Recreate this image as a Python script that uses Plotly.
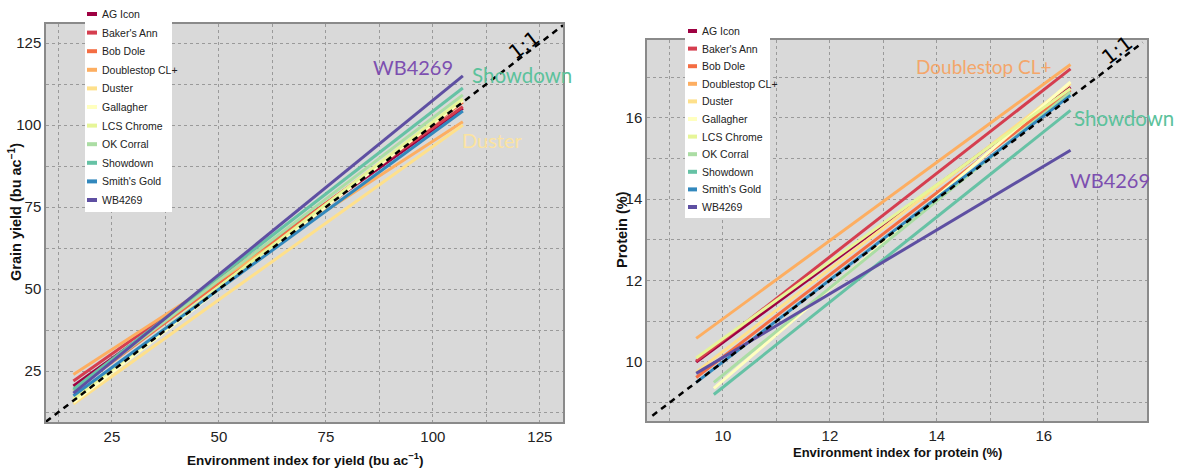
import plotly.graph_objects as go

W, H = 1178, 474

varieties = ["AG Icon", "Baker's Ann", "Bob Dole", "Doublestop CL+", "Duster", "Gallagher",
             "LCS Chrome", "OK Corral", "Showdown", "Smith's Gold", "WB4269"]
colors = ["#9e0142", "#d53e4f", "#f46d43", "#fdae61", "#fee08b", "#ffffbf",
          "#e6f598", "#abdda4", "#66c2a5", "#3288bd", "#5e4fa2"]

# Yield panel: regression lines (environment index -> grain yield)
yield_env_start = [16, 16, 16, 16, 16, 16, 16, 16, 16, 16, 16]
yield_env_end = [107, 107, 107, 107, 107, 107, 107, 107, 107, 107, 107]
yield_start = [20.5, 22.0, 19.0, 24.0, 15.0, 15.5, 16.5, 19.0, 19.5, 17.5, 18.3]
yield_end = [105.1, 105.6, 107.0, 101.0, 100.0, 107.5, 108.0, 109.2, 111.3, 104.3, 115.0]

# Protein panel: regression lines (environment index -> protein)
prot_env_start = [9.5, 9.5, 9.5, 9.5, 9.5, 9.83, 9.5, 9.83, 9.83, 9.5, 9.5]
prot_env_end = [16.5, 16.5, 16.5, 16.5, 16.5, 16.5, 16.5, 16.5, 16.5, 16.5, 16.5]
prot_start = [10.0, 10.02, 9.62, 10.58, 9.75, 9.35, 10.1, 9.5, 9.2, 9.5, 9.72]
prot_end = [16.75, 17.2, 16.68, 17.31, 16.84, 16.88, 16.72, 16.63, 16.18, 16.55, 15.2]

yield_range_x = [9.6, 130.4]
yield_range_y = [9.5, 130.8]
prot_range_x = [8.58, 17.93]
prot_range_y = [8.55, 17.91]

yield_ticks = [25, 50, 75, 100, 125]
prot_ticks = [10, 12, 14, 16]

SANS = "Liberation Sans, Arial, sans-serif"
LABEL_FONT = "Lato, Open Sans, sans-serif"

fig = go.Figure()

for i, name in enumerate(varieties):
    fig.add_trace(go.Scatter(
        x=[yield_env_start[i], yield_env_end[i]], y=[yield_start[i], yield_end[i]],
        mode="lines", line=dict(color=colors[i], width=3), name=name,
        showlegend=False, xaxis="x", yaxis="y"))
for i, name in enumerate(varieties):
    fig.add_trace(go.Scatter(
        x=[prot_env_start[i], prot_env_end[i]], y=[prot_start[i], prot_end[i]],
        mode="lines", line=dict(color=colors[i], width=3), name=name,
        showlegend=False, xaxis="x2", yaxis="y2"))

# 1:1 lines
lo = max(yield_range_x[0], yield_range_y[0]); hi = min(yield_range_x[1], yield_range_y[1])
fig.add_trace(go.Scatter(x=[lo, hi], y=[lo, hi], mode="lines",
                         line=dict(color="black", width=2.5, dash="6px,5px"),
                         showlegend=False, xaxis="x", yaxis="y"))
lo2 = 8.68; hi2 = 17.85
fig.add_trace(go.Scatter(x=[lo2, hi2], y=[lo2, hi2], mode="lines",
                         line=dict(color="black", width=2.5, dash="6px,5px"),
                         showlegend=False, xaxis="x2", yaxis="y2"))


def px(x):
    return x / W


def py(y):
    return 1 - y / H


axis_common = dict(
    showline=True, linecolor="#8a8a8a", linewidth=1.5, mirror=True,
    ticks="", showgrid=True, gridcolor="#9a9a9a", griddash="dot", gridwidth=1,
    zeroline=False, tickfont=dict(family=SANS, size=15, color="#222"),
    automargin=False,
)

fig.update_layout(
    width=W, height=H,
    margin=dict(l=0, r=0, t=0, b=0),
    paper_bgcolor="white",
    plot_bgcolor="#d9d9d9",
    xaxis=dict(domain=[px(46), px(563)], range=yield_range_x, tickvals=yield_ticks,
               minor=dict(dtick=12.5, tick0=0, showgrid=True, gridcolor="#9a9a9a", griddash="dot", ticks=""),
               anchor="y", **axis_common),
    yaxis=dict(domain=[py(422), py(24)], range=yield_range_y, tickvals=yield_ticks,
               minor=dict(dtick=12.5, tick0=0, showgrid=True, gridcolor="#9a9a9a", griddash="dot", ticks=""),
               anchor="x", **axis_common),
    xaxis2=dict(domain=[px(647), px(1147)], range=prot_range_x, tickvals=prot_ticks,
                minor=dict(dtick=1, tick0=0, showgrid=True, gridcolor="#9a9a9a", griddash="dot", ticks=""),
                anchor="y2", **axis_common),
    yaxis2=dict(domain=[py(421), py(40)], range=prot_range_y, tickvals=prot_ticks,
                minor=dict(dtick=1, tick0=0, showgrid=True, gridcolor="#9a9a9a", griddash="dot", ticks=""),
                anchor="x2", **axis_common),
)

shapes = []
annotations = []


# Manual legends
def add_legend(x0, x1, y_first, step, box_top, box_bottom, sw0, sw1, text_x):
    shapes.append(dict(type="rect", xref="paper", yref="paper",
                       x0=px(x0), x1=px(x1), y0=py(box_bottom), y1=py(box_top),
                       fillcolor="white", line=dict(width=0), layer="above"))
    for i, name in enumerate(varieties):
        yy = y_first + i * step
        shapes.append(dict(type="line", xref="paper", yref="paper",
                           x0=px(sw0), x1=px(sw1), y0=py(yy), y1=py(yy),
                           line=dict(color=colors[i], width=4), layer="above"))
        annotations.append(dict(xref="paper", yref="paper", x=px(text_x), y=py(yy),
                                text=name, showarrow=False, xanchor="left", yanchor="middle",
                                font=dict(family=SANS, size=10.5, color="#222")))


add_legend(85, 172, 14, 18.6, 2, 212, 87, 97, 100)
add_legend(685, 770, 31, 17.6, 20, 218, 688, 697, 700)

# Axis titles
annotations += [
    dict(xref="paper", yref="paper", x=px(15), y=py(212), text="<b>Grain yield (bu ac<sup>−1</sup>)</b>",
         textangle=-90, showarrow=False, font=dict(family=SANS, size=14.5, color="#111"),
         xanchor="center", yanchor="middle"),
    dict(xref="paper", yref="paper", x=px(305), y=py(459), text="<b>Environment index for yield (bu ac<sup>−1</sup>)</b>",
         showarrow=False, font=dict(family=SANS, size=13.5, color="#111"), xanchor="center", yanchor="middle"),
    dict(xref="paper", yref="paper", x=px(622), y=py(230), text="<b>Protein (%)</b>",
         textangle=-90, showarrow=False, font=dict(family=SANS, size=14.5, color="#111"),
         xanchor="center", yanchor="middle"),
    dict(xref="paper", yref="paper", x=px(897), y=py(452), text="<b>Environment index for protein (%)</b>",
         showarrow=False, font=dict(family=SANS, size=13, color="#111"), xanchor="center", yanchor="middle"),
]

# 1:1 labels
annotations += [
    dict(xref="paper", yref="paper", x=px(524), y=py(45), text="1:1", textangle=-37.6, showarrow=False,
         font=dict(family="DejaVu Sans, sans-serif", size=20, color="black"), xanchor="center", yanchor="middle"),
    dict(xref="paper", yref="paper", x=px(1117), y=py(50), text="1:1", textangle=-37.4, showarrow=False,
         font=dict(family="DejaVu Sans, sans-serif", size=20, color="black"), xanchor="center", yanchor="middle"),
]

# Variety callouts
annotations += [
    dict(xref="paper", yref="paper", x=px(413), y=py(67), text="WB4269", showarrow=False,
         font=dict(family=LABEL_FONT, size=20, color="#7d4fb0"), xanchor="center", yanchor="middle"),
    dict(xref="paper", yref="paper", x=px(522), y=py(75), text="Showdown", showarrow=False,
         font=dict(family=LABEL_FONT, size=20.5, color="#5cc29c"), xanchor="center", yanchor="middle"),
    dict(xref="paper", yref="paper", x=px(492), y=py(140), text="Duster", showarrow=False,
         font=dict(family=LABEL_FONT, size=20, color="#fbe3a0"), xanchor="center", yanchor="middle"),
    dict(xref="paper", yref="paper", x=px(984), y=py(67), text="Doublestop CL+", showarrow=False,
         font=dict(family=LABEL_FONT, size=19, color="#f4a66a"), xanchor="center", yanchor="middle"),
    dict(xref="paper", yref="paper", x=px(1124), y=py(118), text="Showdown", showarrow=False,
         font=dict(family=LABEL_FONT, size=20.5, color="#5cc29c"), xanchor="center", yanchor="middle"),
    dict(xref="paper", yref="paper", x=px(1110), y=py(180), text="WB4269", showarrow=False,
         font=dict(family=LABEL_FONT, size=20, color="#7d4fb0"), xanchor="center", yanchor="middle"),
]

fig.update_layout(shapes=shapes, annotations=annotations)
fig.write_html("out.html", config={"displayModeBar": False},
               post_script="document.body.style.margin='0';document.body.style.overflow='hidden';")
